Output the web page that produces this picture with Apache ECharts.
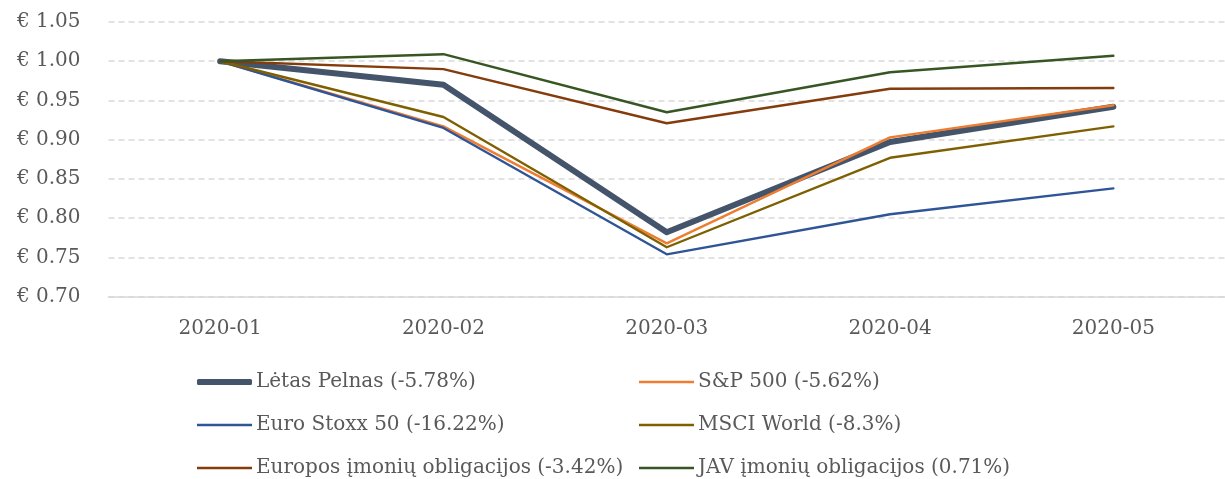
<!DOCTYPE html>
<html><head><meta charset="utf-8">
<script src="https://cdn.jsdelivr.net/npm/echarts@6/dist/echarts.min.js"></script>
<style>html,body{margin:0;padding:0;background:#fff}#c{width:1225px;height:479px}</style>
</head><body><div id="c"></div>
<script>
const categories = ['2020-01','2020-02','2020-03','2020-04','2020-05'];
const seriesNames = ['Lėtas Pelnas (-5.78%)','S&P 500 (-5.62%)','Euro Stoxx 50 (-16.22%)','MSCI World (-8.3%)','Europos įmonių obligacijos (-3.42%)','JAV įmonių obligacijos (0.71%)'];
const letasPelnas = [1.000, 0.970, 0.782, 0.897, 0.942];
const sp500 = [1.000, 0.917, 0.768, 0.903, 0.944];
const euroStoxx50 = [1.000, 0.915, 0.754, 0.805, 0.838];
const msciWorld = [1.000, 0.929, 0.763, 0.877, 0.917];
const europosObl = [1.000, 0.990, 0.921, 0.965, 0.966];
const javObl = [1.000, 1.009, 0.935, 0.986, 1.007];
const yTicks = [0.70, 0.75, 0.80, 0.85, 0.90, 0.95, 1.00, 1.05];

const values = [letasPelnas, sp500, euroStoxx50, msciWorld, europosObl, javObl];
const colors = ['#44546A','#ED7D31','#2F5597','#7F6000','#843C0C','#375623'];
const widths = [6, 2.4, 2.4, 2.4, 2.4, 2.4];
const font = '"DejaVu Serif", "Liberation Serif", serif';

// legend layout: two columns, three rows
const legendLeft = [197, 639];
const legendRowCenter = [382, 425, 468];

const legends = seriesNames.map((n, i) => {
  const col = i % 2, row = Math.floor(i / 2);
  const thick = i === 0;
  return {
    data: [n], orient: 'horizontal', left: legendLeft[col], top: legendRowCenter[row] - 12,
    padding: 0, itemWidth: 55, itemHeight: thick ? 6 : 2.5, itemGap: 0,
    icon: thick ? 'roundRect' : 'rect',
    itemStyle: {color: colors[i], borderWidth: 0},
    textStyle: {color: '#595959', fontSize: 20, fontFamily: font, lineHeight: 24, padding: [0,0,0,-1]}
  };
});

const chart = echarts.init(document.getElementById('c'), null, {renderer:'canvas'});
chart.setOption({
  animation: false,
  textStyle: {fontFamily: font},
  grid: {left: 108.5, right: -8, top: 22, bottom: 182.3, containLabel: false},
  xAxis: {
    type: 'category', data: categories, boundaryGap: true,
    axisLine: {lineStyle: {color: '#D9D9D9', width: 1.5}},
    axisTick: {show: false},
    axisLabel: {color: '#595959', fontSize: 20, fontFamily: font, margin: 22}
  },
  yAxis: {
    type: 'value', min: yTicks[0], max: yTicks[yTicks.length-1], interval: 0.05,
    axisLine: {show: false}, axisTick: {show: false},
    axisLabel: {color: '#595959', fontSize: 20, fontFamily: font, margin: 28,
      formatter: v => '€ ' + v.toFixed(2)},
    splitLine: {lineStyle: {color: '#D9D9D9', width: 1.5, type: [6, 4]}}
  },
  legend: legends,
  series: seriesNames.map((n, i) => ({
    name: n, type: 'line', data: values[i], symbol: 'none', smooth: false,
    lineStyle: {color: colors[i], width: widths[i], cap: 'round', join: 'round'},
    itemStyle: {color: colors[i]}
  }))
});
</script></body></html>
